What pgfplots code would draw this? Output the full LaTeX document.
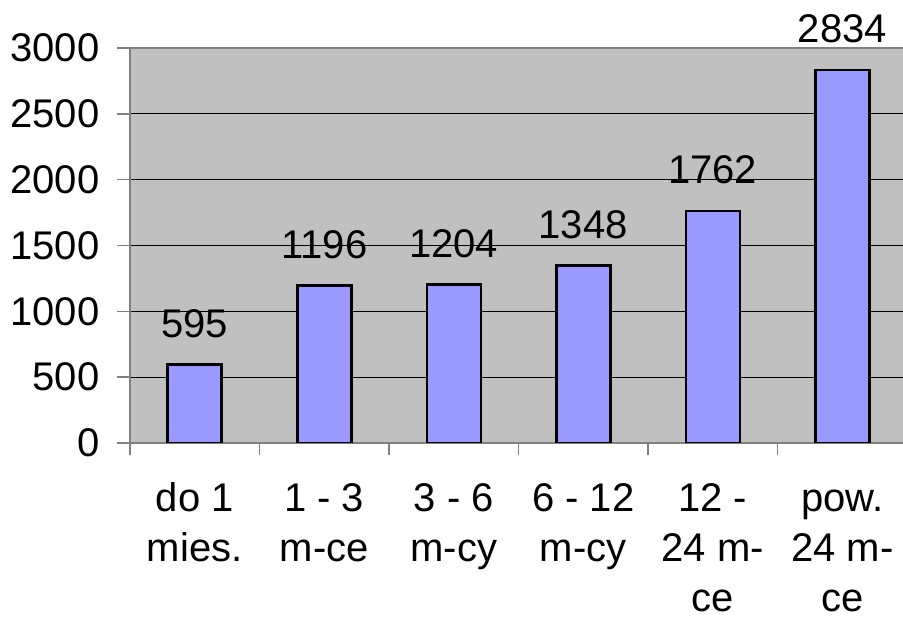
\documentclass[border=0pt]{standalone}
\usepackage{pgfplots}
\pgfplotsset{compat=1.18}
\usepackage{fontspec}
\setmainfont{Liberation Sans}
\definecolor{plotbg}{HTML}{C0C0C0}
\definecolor{barfill}{HTML}{9999FF}
\definecolor{axgray}{HTML}{808080}
\begin{document}
\begin{tikzpicture}
    % 1pt here = 1px of the reference
    \begin{axis}[
        at={(130pt,174pt)},
        anchor=south west,
        scale only axis,
        width=777pt,
        height=395pt,
        xmin=-0.5, xmax=5.5,
        ymin=0, ymax=3000,
        ytick={0,500,...,3000},
        xtick={-0.5,0.5,...,5.5},
        x tick label as interval,
        xticklabels={\strut do 1\\mies., \strut 1 - 3\\m-ce, \strut 3 - 6\\m-cy, \strut 6 - 12\\m-cy, \strut 12 -\\24 m-\\ce, \strut pow.\\24 m-\\ce},
        xtick pos=bottom,
        ytick pos=left,
        tick align=outside,
        major tick length=12.5pt,
        tick style={draw=axgray, line width=1.5pt},
        ymajorgrids,
        grid style={draw=black, line width=1.2pt},
        axis line style={draw=axgray, line width=2.5pt},
        axis background/.style={fill=plotbg},
        /pgf/number format/assume math mode=true,
        /pgf/number format/1000 sep={},
        scaled y ticks=false,
        ticklabel style={font=\fontsize{40}{50}\selectfont},
        xticklabel style={align=center, anchor=north, inner sep=0pt, yshift=-21pt},
        yticklabel style={anchor=east, inner sep=0pt, xshift=-18pt},
        nodes near coords,
        nodes near coords style={font=\fontsize{40}{51}\selectfont, anchor=base, yshift=27pt, inner sep=0pt},
    ]
    \addplot[ybar, bar width=54pt, fill=barfill, draw=black, line width=2.5pt] coordinates {
        (0,595)
        (1,1196)
        (2,1204)
        (3,1348)
        (4,1762)
        (5,2834)
    };
    \end{axis}
    \pgfresetboundingbox
    \path[use as bounding box] (0,0) rectangle (903pt,617pt);
\end{tikzpicture}
\end{document}
